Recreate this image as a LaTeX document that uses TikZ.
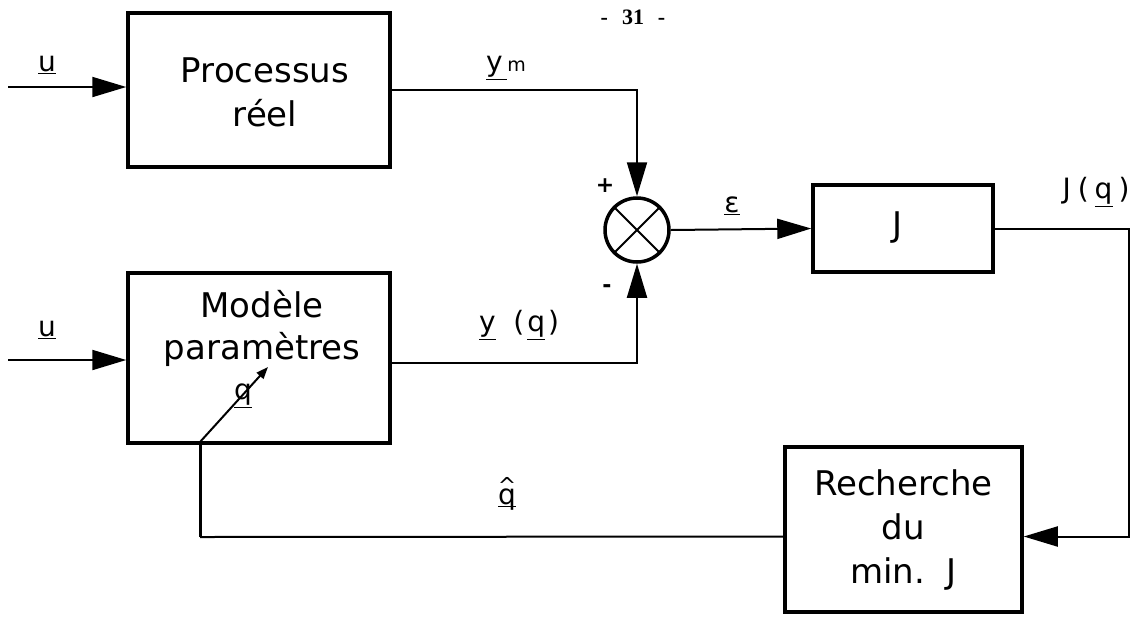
\documentclass[tikz,border=0pt]{standalone}
\usepackage{fontspec}
\setmainfont{DejaVu Sans}
\newfontfamily\serifx{Liberation Serif}
\usetikzlibrary{arrows.meta,calc}
\newcommand\ulx[1]{\underline{#1}}
\begin{document}
\begin{tikzpicture}[x=1pt,y=-1pt,
  blk/.style={draw,line width=3.5pt,inner sep=0pt},
  conn/.style={line width=2pt},
  big/.style={-{Triangle[length=34pt,width=20pt]}},
  btxt/.style={font=\fontsize{34}{48}\selectfont,align=center},
  ltxt/.style={font=\fontsize{28}{32}\selectfont,inner sep=0pt}]
\useasboundingbox (0,0) rectangle (1142,622);
% blocks
\node[blk,minimum width=262pt,minimum height=154pt] (proc) at (259,90) {};
\node[btxt] (proctxt) at (265,92) {Processus\\[-4pt]réel};
\node[blk,minimum width=262pt,minimum height=170pt] (model) at (259,358) {};
\node[btxt,font=\fontsize{34}{42}\selectfont] (modtxt) at (262,328) {Modèle\\paramètres};
\node[ltxt] (qin) at (243,396) {\ulx{q}};
\node[draw,circle,line width=3.5pt,minimum size=64pt,inner sep=0pt] (sum) at (637,230) {};
\draw[conn] (sum.north west) -- (sum.south east) (sum.north east) -- (sum.south west);
\node[blk,minimum width=180pt,minimum height=87pt] (jb) at (903,228.5) {};
\node[btxt] (jtxt) at (897,228) {J};
\node[blk,minimum width=237pt,minimum height=165pt,btxt,font=\fontsize{34}{44}\selectfont] (rech) at (903.5,529.5) {Recherche\\du\\min.\ \ J};
% inputs
\coordinate (u1s) at (8,87);
\coordinate (u2s) at (8,360);
\draw[conn,big] (u1s) -- (proc.west |- u1s);
\draw[conn,big] (u2s) -- (model.west |- u2s);
\node[ltxt] (u1) at (47,65) {\ulx{u}};
\node[ltxt] (u2) at (47,330) {\ulx{u}};
% to summer
\draw[conn,big] (proc.east) -| (sum.north);
\node[ltxt] (ymlab) at (506,68) {\ulx{y\,}{\fontsize{19}{20}\selectfont m}};
\draw[conn,big] ([yshift=-5pt]model.east) -| (sum.south);
\node[ltxt] (yqlab) at (519,325) {\ulx{y}\ \ (\hspace{3pt}\ulx{q}\hspace{3pt})};
\node[font=\fontsize{22}{24}\selectfont\bfseries] (plus) at (605,186) {+};
\node[font=\fontsize{22}{24}\selectfont\bfseries] (minus) at (607,289) {-};
% epsilon
\draw[conn,big] (sum.east) -- (jb.west);
\node[ltxt] (eps) at (732,206) {\ulx{ε}};
% J out
\coordinate (jc) at (1129,228.5);
\draw[conn,big] (jb.east) -- (jc) |- ([yshift=-7pt]rech.east);
\node[ltxt] (jq) at (1096,192) {J\hspace{7pt}(\hspace{6pt}\ulx{q}\hspace{6pt})};
% feedback
\coordinate (fb1) at (200,537);
\coordinate (qb) at (200,442);
\coordinate (qt) at (268,367);
\draw[conn] ([yshift=-7pt]rech.west) -- (fb1);
\draw[line width=3pt] (fb1) -- (qb);
\draw[conn,-{Triangle[length=12pt,width=9pt]}] (qb) -- (qt);
\node[ltxt] (qhat) at (507,498) {\ulx{\ooalign{q\cr\hidewidth\raisebox{11pt}{\fontsize{22}{22}\selectfont\textasciicircum}\hidewidth\cr}}};
% page number
\node[font=\serifx\fontsize{22}{24}\selectfont\bfseries] (page) at (633,17) {-\hspace{14pt}31\hspace{14pt}-};
\end{tikzpicture}
\end{document}
